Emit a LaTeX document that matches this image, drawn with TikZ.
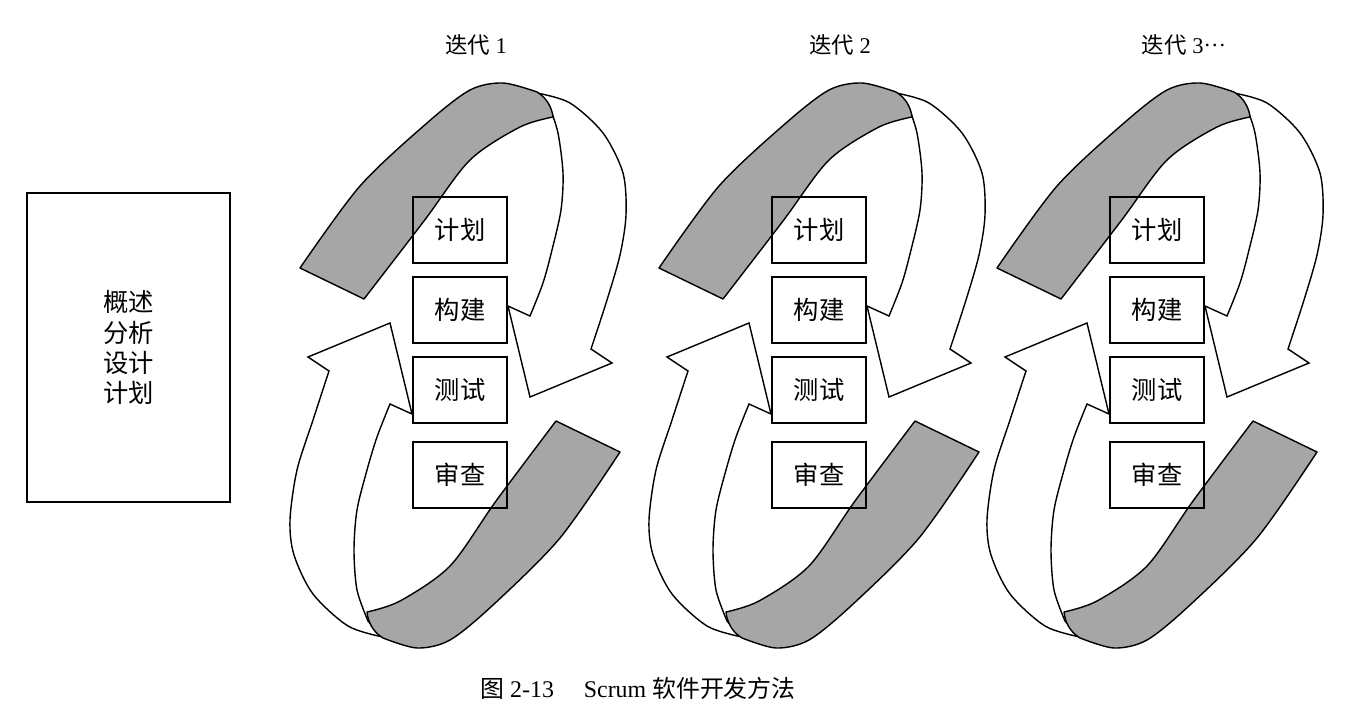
\documentclass[tikz,border=0pt]{standalone}
\usepackage{fontspec}
\setmainfont{Liberation Serif}
\newfontfamily\cjk{Noto Sans CJK SC}
\usetikzlibrary{positioning}

\tikzset{
  stage/.style={draw,line width=1.3pt,minimum width=23.5mm,minimum height=16.5mm,inner sep=0pt,
    font=\cjk\fontsize{18pt}{21pt}\selectfont},
  front/.style={draw,line width=1pt,fill=black!35,line join=round},
  back/.style={draw,line width=1pt,fill=white},
}

\begin{document}
\begin{tikzpicture}[x=0.25mm,y=-0.25mm]
  \useasboundingbox (0,0) rectangle (1362,724);
  % preparation phase
  \node[draw,line width=1.2pt,minimum width=50.75mm,minimum height=77.25mm,inner sep=0pt,align=center,
    font=\cjk\fontsize{18pt}{21.5pt}\selectfont] (prep) at (128.5,347.5) {概述\\分析\\设计\\计划};
  \foreach \cx/\hx/\k/\lab in {460/476/1/1, 819/840/2/2, 1157/1184/3/{3\raisebox{0.3em}{…}}}{
    % upper ribbon: white back side with head, grey front side
    \begin{scope}[shift={(\cx,360)}]
      \draw[back] plot[smooth] coordinates {(77,-267)(110,-257)(143,-227)(163,-187)(166,-145)(160,-105)(147,-60)(131,-11)}
        -- (152,3) -- (70,37) -- (48,-54) -- (70,-44)
        -- plot[smooth] coordinates {(70,-44)(83,-77)(92,-110)(101,-150)(103,-187)(98,-227)(90,-252)} -- cycle;
      \draw[front] plot[smooth] coordinates {(-160,-92)(-100,-174)(-33,-237)(10,-270)(43,-277)(77,-268)}
        .. controls (87,-262) and (92,-252) .. (93,-243)
        -- plot[smooth] coordinates {(93,-243)(60,-233)(10,-200)(-36,-139)(-96,-61)} -- cycle;
    \end{scope}
    % lower ribbon, turned round and a little longer
    \begin{scope}[shift={(\cx,360)},rotate=180]
      \draw[back] plot[smooth] coordinates {(77,-277)(112,-266)(147,-234)(166,-195)(170,-160)(163,-110)(147,-60)(131,-11)}
        -- (152,3) -- (70,37) -- (48,-54) -- (70,-44)
        -- plot[smooth] coordinates {(70,-44)(83,-77)(93,-110)(103,-150)(106,-190)(103,-230)(92,-261)} -- cycle;
      \draw[front] plot[smooth] coordinates {(-160,-92)(-100,-178)(-33,-245)(10,-280)(43,-288)(77,-278)}
        .. controls (87,-272) and (92,-262) .. (93,-252)
        -- plot[smooth] coordinates {(93,-252)(60,-241)(10,-206)(-36,-141)(-96,-61)} -- cycle;
    \end{scope}
    \node[font=\fontsize{16pt}{18pt}\selectfont] (iter\k) at (\hx,45) {{\cjk 迭代} \lab};
    \node[stage] (plan\k) at (\cx,230) {计划};
    \node[stage,below=3mm of plan\k] (build\k) {构建};
    \node[stage,below=3mm of build\k] (test\k) {测试};
    \node[stage,below=4.4mm of test\k] (review\k) {审查};
  }
  \node[font=\fontsize{17pt}{20pt}\selectfont] (caption) at (638,688) {{\cjk 图} 2-13\quad\ Scrum {\cjk 软件开发方法}};
\end{tikzpicture}
\end{document}
